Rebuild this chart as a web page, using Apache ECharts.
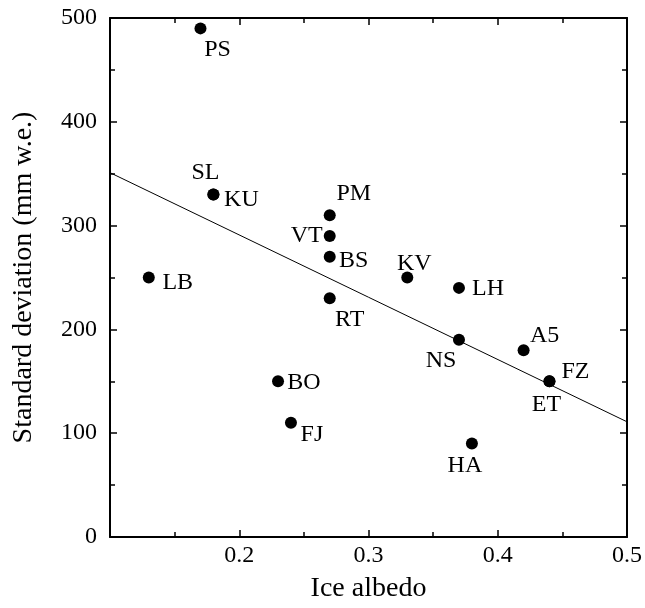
<!DOCTYPE html>
<html>
<head>
<meta charset="utf-8">
<script src="https://cdn.jsdelivr.net/npm/echarts@6/dist/echarts.min.js"></script>
<style>html,body{margin:0;padding:0;background:#fff}#c{width:645px;height:608px}</style>
</head>
<body>
<div id="c"></div>
<script>
var stations = ['PS','SL','KU','LB','PM','VT','BS','RT','KV','LH','NS','A5','FZ','ET','BO','FJ','HA'];
var albedo   = [0.17,0.18,0.18,0.13,0.27,0.27,0.27,0.27,0.33,0.37,0.37,0.42,0.44,0.44,0.23,0.24,0.38];
var stdDev   = [490, 330, 330, 250, 310, 290, 270, 230, 250, 240, 190, 180, 150, 150, 150, 110, 90];
var fitX = [0.1, 0.5];
var fitY = [351, 111];
var xTicks = [0.1, 0.5, 0.1];
var yTicks = [0, 500, 100];

// label offsets (styling only)
var labelOffsets = [[17,21],[-8,-22],[28,5],[29,5],[24,-22],[-23,0],[24,4],[20,21],[7,-14],[29,1],[-18,21],[21,-14],[26,-10],[-3,23],[26,1],[21,12],[-7,22]];

var font = 'Liberation Serif';
var pts = stations.map(function(s,i){
  return {value:[albedo[i], stdDev[i]], name:s,
    label:{show:true, position:'inside', formatter:s, offset:labelOffsets[i],
      color:'#000', fontFamily:font, fontSize:24}};
});
var axisBase = {
  axisLine:{show:true, onZero:false, lineStyle:{color:'#000', width:2}},
  axisTick:{show:true, inside:true, length:7, lineStyle:{color:'#000', width:1.5}},
  minorTick:{show:true, splitNumber:2, length:5, lineStyle:{color:'#000', width:1.5}},
  splitLine:{show:false}
};
function ax(extra){ return Object.assign({}, JSON.parse(JSON.stringify(axisBase)), extra); }

var chart = echarts.init(document.getElementById('c'));
chart.setOption({
  animation:false,
  grid:{left:110, right:15, top:18, bottom:69, containLabel:false},
  xAxis:[
    ax({type:'value', position:'bottom', min:xTicks[0], max:xTicks[1], interval:xTicks[2],
      name:'Ice albedo', nameLocation:'middle', nameGap:38,
      nameTextStyle:{fontFamily:font, fontSize:28, color:'#000'},
      axisLabel:{showMinLabel:false, margin:7, fontFamily:font, fontSize:24, color:'#000',
        formatter:function(v){return (+v).toFixed(1);}}}),
    ax({type:'value', position:'top', min:xTicks[0], max:xTicks[1], interval:xTicks[2],
      axisLabel:{show:false}})
  ],
  yAxis:[
    ax({type:'value', position:'left', min:yTicks[0], max:yTicks[1], interval:yTicks[2],
      name:'Standard deviation (mm w.e.)', nameLocation:'middle', nameGap:72,
      nameTextStyle:{fontFamily:font, fontSize:28, color:'#000'},
      axisLabel:{margin:13, fontFamily:font, fontSize:24, color:'#000'}}),
    ax({type:'value', position:'right', min:yTicks[0], max:yTicks[1], interval:yTicks[2],
      axisLabel:{show:false}})
  ],
  series:[
    {type:'line', data:fitX.map(function(x,i){return [x, fitY[i]];}), showSymbol:false, symbol:'none',
      lineStyle:{color:'#000', width:1}, silent:true, z:1},
    {type:'scatter', data:pts, symbol:'circle', symbolSize:12,
      itemStyle:{color:'#000', opacity:1}, z:2}
  ]
});
</script>
</body>
</html>
